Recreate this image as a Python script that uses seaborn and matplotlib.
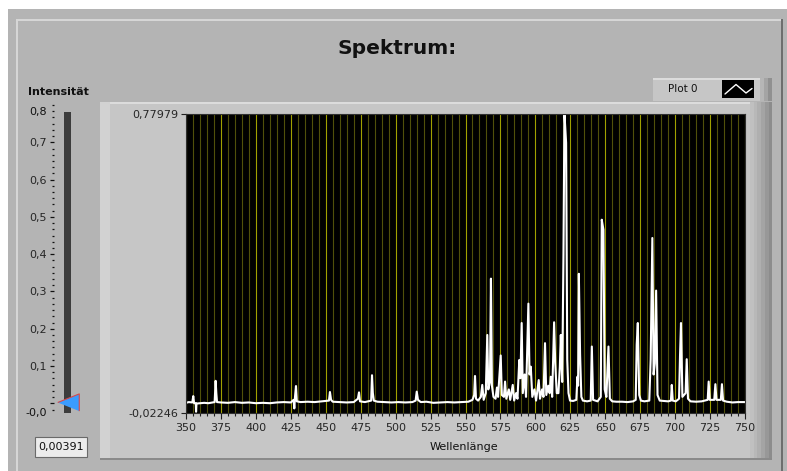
import matplotlib
matplotlib.use("Agg")
import matplotlib.pyplot as plt
from matplotlib.patches import Rectangle
from matplotlib.ticker import MultipleLocator, FixedLocator, FixedFormatter
import seaborn as sns

# spectrum polyline (nm, intensity)
wavelength = [
    350.0, 352.0, 354.5, 355.2, 355.8, 357.0, 357.2, 357.5, 360.0, 363.0,
    366.0, 369.0, 370.5, 371.2, 371.7, 372.2, 375.0, 380.0, 385.0, 390.0,
    395.0, 400.0, 405.0, 410.0, 415.0, 420.0, 425.0, 427.0, 427.5, 428.0,
    428.7, 429.3, 432.0, 437.0, 442.0, 447.0, 452.3, 453.0, 453.8, 455.0,
    460.0, 465.0, 470.0, 473.0, 473.8, 474.5, 478.0, 482.5, 483.1, 483.7,
    484.4, 487.0, 492.0, 497.0, 502.0, 507.0, 512.0, 514.3, 515.1, 516.0,
    518.0, 522.0, 527.0, 532.0, 537.0, 542.0, 547.0, 552.0, 555.0, 556.2,
    556.8, 557.5, 559.0, 561.0, 562.0, 563.0, 564.5, 565.6, 566.3, 567.5,
    568.2, 568.9, 570.0, 571.5, 572.5, 573.3, 575.2, 576.0, 577.5, 578.3,
    579.2, 581.0, 582.0, 583.8, 584.8, 586.2, 587.2, 588.5, 589.3, 590.2,
    591.0, 592.3, 593.3, 595.0, 595.8, 596.7, 597.8, 599.3, 600.5, 602.4,
    603.3, 604.8, 605.8, 606.9, 607.8, 609.2, 610.2, 611.0, 612.0, 613.4,
    614.2, 615.3, 616.5, 617.5, 618.2, 619.2, 620.1, 620.8, 622.0, 622.8,
    623.7, 624.8, 627.0, 629.3, 630.1, 630.6, 631.1, 632.0, 632.9, 634.0,
    637.0, 639.6, 640.4, 641.3, 643.0, 644.5, 646.8, 647.5, 648.7, 649.6,
    650.8, 652.3, 653.3, 655.0, 658.0, 662.0, 666.0, 670.0, 671.8, 672.5,
    673.3, 674.3, 675.5, 678.0, 681.5, 682.5, 683.7, 684.6, 685.5, 686.4,
    687.4, 689.0, 692.0, 695.0, 697.0, 697.6, 698.3, 700.5, 702.8, 703.5,
    704.2, 705.2, 707.5, 708.3, 709.2, 711.0, 715.0, 719.0, 723.3, 724.0,
    724.8, 728.0, 728.8, 729.6, 732.7, 733.5, 734.3, 737.0, 741.0, 745.0,
    750.0,
]
intensity = [
    0.004, 0.006, 0.005, 0.022, 0.003, 0.003, -0.020, 0.002, 0.003, 0.004,
    0.003, 0.005, 0.006, 0.063, 0.030, 0.006, 0.005, 0.004, 0.006, 0.004,
    0.005, 0.003, 0.004, 0.003, 0.005, 0.006, 0.005, 0.012, -0.011, 0.020,
    0.049, 0.008, 0.006, 0.007, 0.006, 0.008, 0.010, 0.033, 0.012, 0.007,
    0.006, 0.005, 0.006, 0.015, 0.032, 0.008, 0.006, 0.010, 0.078, 0.030,
    0.010, 0.007, 0.006, 0.005, 0.006, 0.005, 0.006, 0.010, 0.034, 0.012,
    0.006, 0.007, 0.004, 0.005, 0.006, 0.005, 0.006, 0.007, 0.012, 0.025,
    0.076, 0.015, 0.010, 0.020, 0.052, 0.012, 0.030, 0.186, 0.040, 0.060,
    0.337, 0.050, 0.020, 0.015, 0.045, 0.020, 0.131, 0.025, 0.020, 0.061,
    0.015, 0.040, 0.012, 0.052, 0.010, 0.030, 0.015, 0.119, 0.070, 0.218,
    0.030, 0.080, 0.020, 0.270, 0.080, 0.101, 0.020, 0.040, 0.010, 0.065,
    0.015, 0.040, 0.020, 0.164, 0.025, 0.050, 0.030, 0.074, 0.020, 0.220,
    0.110, 0.030, 0.030, 0.100, 0.186, 0.060, 0.401, 0.780, 0.701, 0.120,
    0.030, 0.010, 0.009, 0.012, 0.074, 0.050, 0.350, 0.133, 0.020, 0.010,
    0.008, 0.010, 0.155, 0.012, 0.010, 0.008, 0.020, 0.495, 0.468, 0.040,
    0.020, 0.155, 0.015, 0.008, 0.007, 0.007, 0.006, 0.008, 0.012, 0.160,
    0.218, 0.025, 0.010, 0.008, 0.010, 0.120, 0.446, 0.080, 0.110, 0.305,
    0.025, 0.010, 0.009, 0.008, 0.010, 0.052, 0.010, 0.008, 0.015, 0.130,
    0.218, 0.020, 0.030, 0.121, 0.015, 0.008, 0.007, 0.008, 0.012, 0.061,
    0.012, 0.012, 0.054, 0.012, 0.012, 0.054, 0.010, 0.007, 0.005, 0.006,
    0.006,
]

y_min, y_max = -0.02246, 0.77979
x_ticks = list(range(350, 751, 25))
slider_ticks = [0.0, 0.1, 0.2, 0.3, 0.4, 0.5, 0.6, 0.7]
slider_value = 0.00391


def de(v, nd):
    return f"{v:.{nd}f}".replace(".", ",")


sns.set_style("white")
plt.rcParams["font.family"] = ["DejaVu Sans"]
plt.rcParams["text.color"] = "#111111"

W, H = 787, 471
fig = plt.figure(figsize=(W / 100, H / 100), dpi=100)
fig.patch.set_facecolor("white")

# background layer in pixel coordinates for the panel decoration
bg = fig.add_axes([0, 0, 1, 1])
bg.set_xlim(0, W)
bg.set_ylim(H, 0)
bg.axis("off")


def box(x0, y0, x1, y1, color, **kw):
    bg.add_patch(Rectangle((x0, y0), x1 - x0, y1 - y0, facecolor=color,
                           edgecolor=kw.pop("edgecolor", "none"), **kw))


def axes_px(x0, y0, x1, y1):
    return [x0 / W, 1 - y1 / H, (x1 - x0) / W, (y1 - y0) / H]


# front panel
box(8, 9, W, H, "#b4b4b4")
box(16, 19, 782, 20.5, "#d6d6d6")
box(16, 19, 17.5, H, "#d6d6d6")
box(780.5, 19, 782.5, H, "#6e6e6e")

# graph frame with bevel
box(100, 102, 772, 459, "#c6c6c6")
box(100, 102, 772, 103.5, "#dcdcdc")
box(100, 102, 110, 459, "#d2d2d2")
for i, c in enumerate(["#c0c0c0", "#b8b8b8", "#afafaf", "#a4a4a4", "#989898", "#8c8c8c"]):
    box(750 + i * 3.7, 102, 772, 459, c)
box(100, 457.5, 772, 459.5, "#8a8a8a")

# legend
box(653, 78, 772, 101, "#c6c6c6")
box(653, 78, 772, 79.5, "#dcdcdc")
for i, c in enumerate(["#b6b6b6", "#a4a4a4", "#909090"]):
    box(760 + i * 4, 78, 772, 101, c)
box(722, 80, 754, 98, "black")
bg.plot([725, 736, 746, 752], [94, 84.5, 93, 88.5], color="white", lw=1)
bg.text(668, 89.5, "Plot 0", fontsize=7.5, ha="left", va="center")

# texts
bg.text(397, 48, "Spektrum:", fontsize=14.5, fontweight="bold", ha="center", va="center")
bg.text(28, 92, "Intensität", fontsize=8, fontweight="bold", ha="left", va="center")
bg.text(464, 446.5, "Wellenlänge", fontsize=8, ha="center", va="center")

# digital display of the slider
box(35, 437, 87, 457, "#ececec", edgecolor="#6a6a6a", linewidth=0.8)
bg.text(38, 447, de(slider_value, 5), fontsize=8, ha="left", va="center")

# main spectrum graph
ax = fig.add_axes(axes_px(186, 113.5, 745, 412.7))
ax.set_facecolor("black")
sns.lineplot(x=wavelength, y=intensity, ax=ax, color="white", linewidth=1.5,
             estimator=None, sort=False)
ax.set_xlim(350, 750)
ax.set_ylim(y_min, y_max)
ax.set_xticks(x_ticks)
ax.set_xticklabels([str(t) for t in x_ticks])
ax.xaxis.set_minor_locator(MultipleLocator(5))
ax.set_yticks([y_min, y_max])
ax.set_yticklabels([de(y_min, 5), de(y_max, 5)])
ax.set_axisbelow(True)
ax.grid(True, which="minor", axis="x", color="#50500a", linewidth=0.8)
ax.grid(True, which="major", axis="x", color="#a0a000", linewidth=0.8)
ax.grid(False, axis="y")
ax.tick_params(axis="x", which="major", direction="out", length=4.3, width=0.8,
               color="#202020", labelsize=8, pad=3, bottom=True)
ax.tick_params(axis="x", which="minor", direction="out", length=2.5, width=0.8,
               color="#202020", bottom=True)
ax.tick_params(axis="y", which="major", direction="out", length=3.6, width=0.8,
               color="#202020", labelsize=8, pad=2, left=True)
for s in ax.spines.values():
    s.set_color("#303030")
    s.set_linewidth(0.8)
ax.set_xlabel("")
ax.set_ylabel("")

# vertical slider "Intensität"
sl = fig.add_axes(axes_px(64, 104, 71, 414))
sl.set_facecolor("none")
sl.set_xlim(0, 1)
sl.set_ylim(-0.0287, 0.8027)
sl.axhspan(-0.026, 0.782, color="#3c3c3c", lw=0)
for s in sl.spines.values():
    s.set_visible(False)
sl.spines["left"].set_position(("outward", 7.2))
sl.set_xticks([])
sl.yaxis.set_major_locator(FixedLocator(slider_ticks))
sl.yaxis.set_major_formatter(FixedFormatter([""] + [de(v, 1) for v in slider_ticks[1:]]))
sl.yaxis.set_minor_locator(MultipleLocator(0.1 / 6))
sl.tick_params(axis="y", which="major", direction="out", length=2.9, width=0.9,
               color="#111111", labelsize=8, pad=2.2, left=True)
sl.tick_params(axis="y", which="minor", direction="out", length=1.5, width=0.9,
               color="#111111", left=True)
sl.annotate("0,8", xy=(0, 0.8), xycoords=("axes fraction", "data"), xytext=(-12.2, -5.3),
            textcoords="offset points", ha="right", va="center", fontsize=8,
            annotation_clip=False)
sl.annotate("-0,0", xy=(0, 0.0), xycoords=("axes fraction", "data"), xytext=(-12.2, -6.8),
            textcoords="offset points", ha="right", va="center", fontsize=8,
            annotation_clip=False)
pointer = [(-1, 0), (1, 0.8), (1, -0.8)]
sl.plot([0.64], [slider_value], marker=pointer, markersize=15.5, color="#3a9cff",
        markeredgecolor="#d84848", markeredgewidth=0.8, clip_on=False, linestyle="none")

fig.savefig("out.png", dpi=100, facecolor=fig.get_facecolor())
